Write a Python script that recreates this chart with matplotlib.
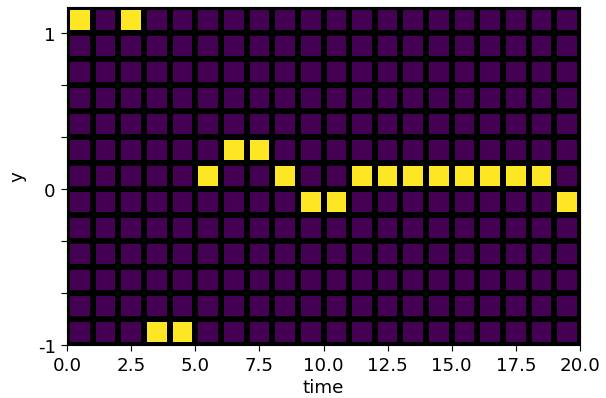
import matplotlib
matplotlib.use("Agg")
import matplotlib.pyplot as plt
import numpy as np

# one-hot state per time step (row index counted from the bottom, None = no cell lit)
n_time = 20
n_rows = 13
active_row = [12, None, 12, 0, 0, 6, 7, 7, 6, 5, 5, 6, 6, 6, 6, 6, 6, 6, 6, 5]

ytick_pos = [-1, -2/3, -1/3, 0, 1/3, 2/3, 1]
ytick_lab = ['-1', '', '', '0', '', '', '1']

C = np.zeros((n_rows, n_time))
for t, r in enumerate(active_row):
    if r is not None:
        C[r, t] = 1

x_edges = np.arange(n_time + 1)
y_edges = np.linspace(-1, 1 + 1/6, n_rows + 1)

plt.rcParams['font.size'] = 13
fig = plt.figure(figsize=(6, 3.95), dpi=101)
ax = fig.add_axes([0.1106, 0.133, 0.8465, 0.847])
ax.pcolormesh(x_edges, y_edges, C, cmap='viridis', vmin=0, vmax=1,
              edgecolor='black', linewidth=4)
ax.set_xlim(0, 20)
ax.set_ylim(-1, 1 + 1/6)
ax.set_yticks(ytick_pos)
ax.set_yticklabels(ytick_lab)
ax.tick_params(length=4.5)
ax.set_xlabel('time', labelpad=3)
ax.set_ylabel('y', labelpad=8)
fig.savefig('out.png')
